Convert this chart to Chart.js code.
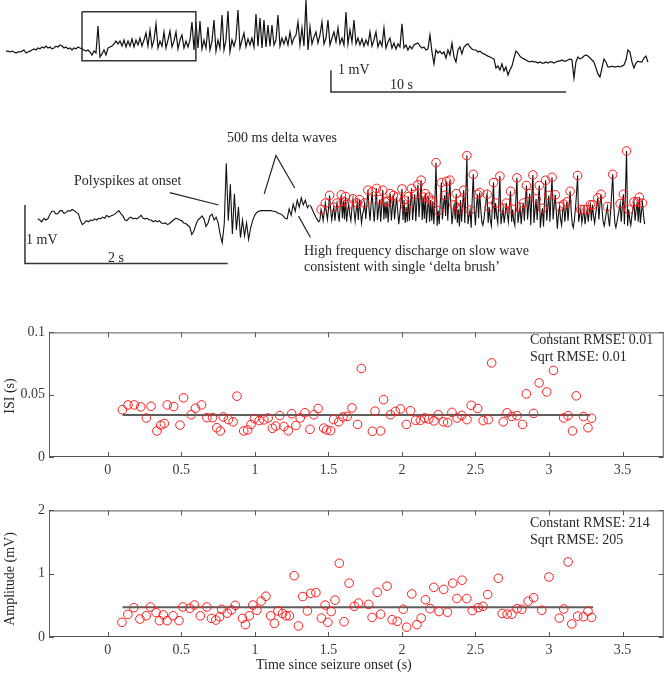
<!DOCTYPE html>
<html>
<head>
<meta charset="utf-8">
<script src="https://cdn.jsdelivr.net/npm/chart.js@4.4.0/dist/chart.umd.min.js"></script>
<style>
html, body { margin: 0; padding: 0; background: #fff; }
#fig { position: relative; width: 669px; height: 678px; overflow: hidden;
       font-family: "Liberation Serif", "Times New Roman", serif; color: #262626; }
#fig canvas { position: absolute; left: 0; }
.t { position: absolute; font-size: 14px; line-height: 14px; white-space: nowrap; }
.ylab { position: absolute; width: 140px; text-align: center; font-size: 14px; line-height: 14px;
        white-space: nowrap; transform: rotate(-90deg); }
</style>
</head>
<body>
<div id="fig">
  <canvas id="top" width="669" height="100" style="top:0px"></canvas>
  <canvas id="mid" width="669" height="150" style="top:130px"></canvas>
  <canvas id="isi" width="669" height="162" style="top:320px"></canvas>
  <canvas id="amp" width="669" height="180" style="top:498px"></canvas>

  <div class="t" style="left:338px;top:63px">1 mV</div>
  <div class="t" style="left:390px;top:78px">10 s</div>

  <div class="t" style="left:227px;top:131px">500 ms delta waves</div>
  <div class="t" style="left:74px;top:174px">Polyspikes at onset</div>
  <div class="t" style="left:26px;top:233px">1 mV</div>
  <div class="t" style="left:108px;top:251px">2 s</div>
  <div class="t" style="left:304px;top:244px">High frequency discharge on slow wave</div>
  <div class="t" style="left:304px;top:260px">consistent with single ‘delta brush’</div>

  <div class="t" style="left:530px;top:333px">Constant RMSE: 0.01</div>
  <div class="t" style="left:530px;top:350px">Sqrt RMSE: 0.01</div>
  <div class="ylab" style="left:-60px;top:389px">ISI (s)</div>

  <div class="t" style="left:530px;top:516px">Constant RMSE: 214</div>
  <div class="t" style="left:530px;top:533px">Sqrt RMSE: 205</div>
  <div class="ylab" style="left:-60px;top:572px">Amplitude (mV)</div>
  <div class="t" style="left:256px;top:658px">Time since seizure onset (s)</div>
</div>

<script>
// ---- long trace (mV), one sample every topDt seconds
const topDt = 0.085;
const topTrace = [
  -0.05,-0.05,-0.09,-0.05,-0.09,-0.14,-0.09,-0.09,-0.05,0,-0.14,-0.09,-0.05,0,0.05,0,0.09,0.05,0.14,0.09,
  0.18,0.09,0.14,0.05,0.09,0.18,0.14,0.23,0.18,0.09,0.14,0.05,0.09,0,0.09,0.05,0.14,0.09,
  0.05,0,-0.05,0,-0.09,-0.23,-0.05,-0.14,1.1,-0.32,-0.18,0,-0.23,0.09,0.14,0.18,0.28,0.41,
  0.28,0.41,0.18,0.46,0.14,0.41,0.18,0.51,0.14,0.46,0.23,0.55,0.18,0.46,0.78,0.18,0.92,0.14,0.46,1.2,
  0.09,0.41,0.18,0.83,0.09,0.46,0.87,0.14,0.41,0.83,0.05,0.46,0.69,0.09,0.41,0.14,0.46,1.29,0,1.29,
  0.09,1.33,0.05,0.46,0.09,1.06,0,0.41,1.38,-0.05,0.46,0.09,1.61,0,0.46,1.79,-0.09,
  0.46,0.18,0.51,1.84,0.09,0.46,0.78,0.14,0.51,0.23,0.55,0.14,1.66,0.18,1.47,0.09,1.38,0.14,1.15,0.18,
  1.15,0.23,0.46,1.61,0.18,0.55,0.28,0.6,0.23,0.83,0.28,0.55,0.69,1.29,0.23,1.01,0.18,2.3,0,1.06,
  0.28,0.6,0.83,0.32,0.69,1.29,0.28,0.55,1.38,0.23,
  0.55,0.83,0.37,1.01,0.28,0.55,0.23,1.75,0.28,0.92,0.37,1.38,0.28,0.55,0.23,0.51,0.18,0.46,0.23,0.83,
  0.18,0.46,0.83,0.14,0.41,0.18,1.01,0.09,0.37,0.55,0.09,0.32,0.05,0.28,0.14,1.2,0.09,0.23,0,0.18,
  0.05,0.23,0.28,0.32,0.18,0.09,0.14,0,0.05,0.69,-0.09,-0.64,0,-0.14,-0.05,
  -0.18,-0.09,-0.37,0,-0.23,0.32,-0.32,-0.55,0,0.14,-0.18,0.14,0.23,0.28,0.14,0.05,0,0,-0.09,-0.05,
  -0.14,-0.18,-0.23,-0.28,-0.32,-0.37,-0.41,-0.83,-0.74,-0.92,-0.64,-0.97,-0.78,-1.15,-0.92,-0.74,-0.37,-0.05,-0.14,-0.28,
  -0.37,-0.41,-0.46,-0.51,-0.55,-0.51,-0.55,-0.55,-0.6,-0.55,-0.6,-0.6,-0.55,-0.6,-0.55,-0.55,-0.6,-0.55,-0.51,-0.51,
  -0.46,-0.51,-0.51,-0.46,-0.41,-0.46,-1.29,-0.55,-0.32,-0.41,-0.37,-0.28,-0.23,-0.28,-0.37,-0.46,-0.55,-0.83,-1.1,-1.24,
  -0.83,-0.41,-0.55,-0.78,-0.78,-0.74,-0.78,-0.78,-0.74,-0.78,-0.74,-0.69,-0.46,0,-0.09,-0.55,-0.83,-0.6,-0.51,-0.55,
  -0.55,-0.37,-0.28,-0.55
];
const topBox = [[3.23, 1.76], [8.07, 1.76], [8.07, -0.49], [3.23, -0.49], [3.23, 1.76]];
const topScaleBar = [[13.81, -0.93], [13.81, -1.93], [23.81, -1.93]];   // 1 mV, 10 s

// ---- expanded trace: before onset (s, mV)
const preStart = -2.69, preDt = 0.02;
const preIctal = [
  -0.03,-0.05,-0.08,-0.02,-0.05,-0.03,0.05,0.10,0.10,0.05,
  0.06,0.11,0.11,0.06,0.08,0.11,0.10,0.13,0.11,0.08,
  0.06,-0.05,-0.13,-0.10,-0.06,-0.08,-0.05,-0.06,-0.03,-0.05,
  -0.02,-0.03,0,-0.02,0.03,0,0.02,0.03,0.05,0.08,
  0.11,0.06,0.02,-0.05,-0.06,-0.02,0,-0.03,-0.02,-0.03,
  0,0.03,-0.02,-0.03,-0.02,-0.05,-0.05,-0.08,-0.06,-0.08,
  -0.06,-0.10,-0.11,-0.10,-0.13,-0.11,-0.08,-0.05,-0.02,-0.03,
  -0.05,-0.06,-0.10,-0.11,-0.14,-0.17,-0.30,-0.24,-0.13,-0.05,
  -0.02,0.02,-0.03,-0.16,-0.10,0.02,0.05,-0.05,0,-0.10,
  -0.30,-0.44,-0.11,0.92,-0.06,0.56,-0.29,0.40,-0.22,0.17,
  -0.35,-0.05,-0.32,-0.10,-0.38,-0.19,-0.06,0.03,0.08,0.10,
  0.11,0.11,0.11,0.11,0.11,0.11,0.10,0.10,0.08,0.06,
  0.05,0.02,-0.02,-0.03,0.14,0.03,0.22,0.10,0.29,0.17,
  0.33,0.21,0.29,0.16,0.21
];
// ---- expanded trace: discharge after onset (s, mV)
const ictalDt = 0.0105;
const ictal = [
  0.2,0.16,0.12,0.08,0.04,0,-0.03,-0.06,-0.08,-0.04,
  0.13,0.05,-0.06,0.10, 0.24,0.08,-0.04,0.15, 0.37,0.12,-0.05,0.08, 0.17,-0.06,0.12, 0.24,0.06,-0.08,0.20,
  0.38,-0.02, 0.27,-0.04, 0.35,-0.08,0.10, 0.22,0.04,-0.06,0.16, 0.31,0.10,-0.07,0.12,
  0.24,-0.05, 0.30,0.10,-0.10,0.05,0.12, 0.24,-0.03,0.20, 0.46,0.15,-0.06,0.22, 0.43,0.12,-0.08,0.25,
  0.49,-0.05,0.14, 0.30,-0.08,0.20, 0.46,-0.04, 0.26,-0.02, 0.27,-0.09,0.18,
  0.40,-0.06,0.15, 0.37,-0.04,0.16, 0.34,0.10,-0.12,0.06,0.25, 0.48,-0.05, 0.29,-0.10,
  0.17,-0.08, 0.35,-0.06,0.22, 0.49,-0.05,0.18, 0.39,-0.07,0.25, 0.55,0,0.30,
  0.63,-0.05, 0.34,-0.03, 0.40,-0.10,0.14, 0.34,-0.08, 0.29,-0.06,
  0.27,-0.12,0.30, 0.93,-0.15, 0.11,-0.12,0.25, 0.59,-0.04,0.20, 0.37,0.02,
  0.61,-0.06,0.30, 0.63,0.20,-0.12,0.08, 0.21,-0.04, 0.40,-0.10, 0.13,-0.16,
  0.29,-0.08,0.20, 0.46,-0.10,0.40, 1.05,-0.12,0.02, 0.12,-0.18,0.30, 0.73,0.15,-0.14,0.20,
  0.39,-0.02, 0.42,0.15,-0.08,-0.14,-0.04,0.12,0.28, 0.39,-0.10, 0.17,-0.05,-0.15,0.20, 0.59,-0.04,
  0.24,0.02,-0.10,0.25, 0.70,-0.12,0.02, 0.15,-0.10,0.05, 0.24,0.05,-0.08,0.20, 0.44,-0.08,
  0.13,-0.06,-0.14,0.30, 0.67,-0.10,0.05, 0.17,-0.12,0.10, 0.24,-0.06,0.30, 0.54,-0.04,0.20,
  0.40,-0.14,0.35, 0.72,-0.10,0.12, 0.31,-0.05,0.28, 0.54,-0.18,0.02, 0.15,-0.16,0.30,
  0.63,-0.06,0.18, 0.37,-0.08,0.35, 0.68,-0.04,0.20, 0.38,0.10,-0.20,0.05, 0.18,-0.04,-0.14,0.10,
  0.22,-0.08,0.12, 0.26,-0.06,0.20, 0.44,0.10,-0.12,-0.18,-0.05,0.15,0.40, 0.71,-0.08,0.04,
  0.13,-0.10,0.02, 0.13,-0.12,0.04, 0.13,-0.08,0.10, 0.21,-0.06, 0.21,0.02,-0.10,0.05,0.20,
  0.33,-0.04,0.22, 0.39,0.12,-0.08,-0.15,-0.05,0.08, 0.18,-0.02,-0.16,0.10,0.40,
  0.73,0.20,-0.10,-0.18,-0.08,0.02,0.12, 0.23,-0.08,0.18, 0.39,-0.12,0.45, 1.13,-0.15,
  0.13,-0.04,-0.14,0.02,0.14, 0.26,-0.06,0.12, 0.26,-0.08, 0.34,-0.10,0.10, 0.24,0.02,-0.12
];
const midScaleBar = [[-2.816, 0.206], [-2.816, -0.794], [-0.816, -0.794]];   // 1 mV, 2 s
const pointerPolyspikes = [[-1.388, 0.417], [-0.906, 0.206]];
const pointerDelta = [[-0.456, 0.397], [-0.340, 1.052], [-0.155, 0.497]];
const pointerBrush = [[-0.117, 0.016], [0, -0.349]];

// ---- inter-spike intervals
const isiTime = [0.099,0.137,0.180,0.224,0.262,0.294,0.334,0.36,0.384,0.404,0.448,0.491,0.515,0.567,0.596,0.637,
  0.674,0.712,0.741,0.765,0.785,0.820,0.852,0.878,0.924,0.951,0.974,0.997,1.029,1.061,1.09,1.119,1.142,1.169,
  1.198,1.227,1.25,1.279,1.308,1.34,1.375,1.401,1.43,1.468,1.488,1.515,1.535,1.57,1.599,1.628,1.66,1.698,1.724,
  1.799,1.817,1.855,1.875,1.922,1.956,1.99,2.03,2.058,2.093,2.125,2.154,2.183,2.218,2.247,2.282,2.311,2.340,
  2.375,2.407,2.442,2.471,2.515,2.552,2.587,2.61,2.689,2.715,2.747,2.782,2.82,2.846,2.895,2.933,2.985,3.03,
  3.1,3.13,3.16,3.185,3.235,3.265,3.29];
const isiValue = [0.0379,0.0418,0.0418,0.0402,0.0313,0.0407,0.0209,0.0256,0.0269,0.0418,0.0405,0.0256,0.0475,
  0.0339,0.0392,0.0418,0.0316,0.0316,0.0235,0.0209,0.0321,0.030,0.0282,0.0488,0.0209,0.0217,0.0261,0.0308,
  0.0292,0.0298,0.0313,0.023,0.0248,0.0332,0.0245,0.0211,0.0347,0.0253,0.0313,0.0355,0.0222,0.0339,0.0389,
  0.0232,0.0217,0.0211,0.030,0.0282,0.0321,0.0326,0.0394,0.0261,0.071,0.0206,0.0368,0.0209,0.046,0.0339,
  0.0366,0.0386,0.0261,0.0371,0.0295,0.0295,0.0313,0.0305,0.029,0.0339,0.0282,0.0277,0.0358,0.0313,0.0334,
  0.030,0.0415,0.0389,0.0292,0.030,0.0755,0.0282,0.0355,0.0326,0.0332,0.0261,0.0507,0.035,0.0595,0.0522,
  0.0695,0.0313,0.0332,0.0209,0.0491,0.0324,0.0235,0.0311];
const isiFitT = [0.1, 3.28], isiFitV = [0.0337, 0.0337];

// ---- spike amplitudes
const ampTime = [0.096,0.136,0.177,0.218,0.261,0.29,0.328,0.351,0.377,0.403,0.444,0.484,0.51,0.557,0.589,0.629,
  0.673,0.705,0.734,0.76,0.774,0.812,0.841,0.867,0.916,0.936,0.962,0.986,1.014,1.043,1.075,1.107,1.133,1.157,
  1.188,1.212,1.235,1.267,1.296,1.325,1.357,1.38,1.415,1.452,1.478,1.496,1.519,1.545,1.574,1.606,1.641,1.676,
  1.705,1.774,1.797,1.832,1.855,1.899,1.933,1.968,2.009,2.032,2.067,2.102,2.131,2.16,2.191,2.217,2.252,2.284,
  2.31,2.345,2.374,2.409,2.441,2.478,2.519,2.551,2.583,2.655,2.681,2.716,2.748,2.783,2.815,2.858,2.896,2.951,
  3.0,3.07,3.1,3.13,3.155,3.195,3.235,3.265,3.29];
const ampValue = [0.232,0.356,0.464,0.284,0.335,0.474,0.387,0.258,0.35,0.258,0.335,0.258,0.474,0.454,0.505,0.335,
  0.474,0.294,0.268,0.32,0.438,0.376,0.428,0.5,0.294,0.196,0.335,0.505,0.423,0.567,0.644,0.335,0.216,0.412,
  0.371,0.335,0.335,0.969,0.175,0.639,0.412,0.69,0.701,0.299,0.505,0.232,0.402,0.582,1.165,0.242,0.851,0.485,
  0.536,0.515,0.309,0.706,0.361,0.804,0.273,0.247,0.438,0.155,0.68,0.196,0.299,0.588,0.448,0.784,0.402,0.753,
  0.392,0.851,0.608,0.897,0.608,0.418,0.464,0.485,0.67,0.928,0.371,0.361,0.361,0.448,0.438,0.567,0.619,0.423,
  0.948,0.299,0.443,1.186,0.206,0.33,0.32,0.407,0.309];
const ampFitT = [0.1, 3.3], ampFitV = [0.47, 0.47];

const xTicks = [0, 0.5, 1, 1.5, 2, 2.5, 3, 3.5];
const isiTicks = [0, 0.05, 0.1];
const ampTicks = [0, 1, 2];

Chart.defaults.font.family = '"Liberation Serif", "Times New Roman", serif';
Chart.defaults.font.size = 14;
Chart.defaults.color = '#3c3c3c';
Chart.defaults.animation = false;
Chart.defaults.plugins.legend.display = false;
Chart.defaults.plugins.tooltip.enabled = false;

// lines given in data units (scale bars, pointers, zoom box)
const overlay = {
  id: 'overlay',
  afterDatasetsDraw(chart, args, opts) {
    const { ctx, scales: { x, y } } = chart;
    (opts.paths || []).forEach(p => {
      ctx.save();
      ctx.strokeStyle = p.color;
      ctx.lineWidth = p.width;
      ctx.beginPath();
      p.pts.forEach(([t, v], i) => {
        const px = x.getPixelForValue(t), py = y.getPixelForValue(v);
        if (i) ctx.lineTo(px, py); else ctx.moveTo(px, py);
      });
      ctx.stroke();
      ctx.restore();
    });
  }
};

// matlab style box with inward ticks on all sides
const boxAxes = {
  id: 'boxAxes',
  afterDraw(chart) {
    const { ctx, chartArea: a, scales: { x, y } } = chart;
    ctx.save();
    ctx.strokeStyle = '#555';
    ctx.lineWidth = 1;
    ctx.strokeRect(a.left + 0.5, a.top + 0.5, a.right - a.left - 1, a.bottom - a.top - 1);
    ctx.beginPath();
    x.ticks.forEach(t => {
      const px = Math.round(x.getPixelForValue(t.value)) + 0.5;
      ctx.moveTo(px, a.bottom); ctx.lineTo(px, a.bottom - 5);
      ctx.moveTo(px, a.top); ctx.lineTo(px, a.top + 5);
    });
    y.ticks.forEach(t => {
      const py = Math.round(y.getPixelForValue(t.value)) + 0.5;
      ctx.moveTo(a.left, py); ctx.lineTo(a.left + 5, py);
      ctx.moveTo(a.right, py); ctx.lineTo(a.right - 5, py);
    });
    ctx.stroke();
    ctx.restore();
  }
};

const hidden = { display: false };
function traceSet(points, width) {
  return { data: points, showLine: true, borderColor: '#111', borderWidth: width, pointRadius: 0, order: 2 };
}

// top: whole recording
new Chart(document.getElementById('top'), {
  type: 'scatter',
  data: { datasets: [traceSet(topTrace.map((v, i) => ({ x: i * topDt, y: v })), 1.2)] },
  options: {
    responsive: false, devicePixelRatio: 1,
    layout: { padding: { left: 6, right: 0, top: 0, bottom: 0 } },
    scales: { x: { ...hidden, min: 0, max: 28.18 }, y: { ...hidden, min: -2.3, max: 2.3 } },
    plugins: { overlay: { paths: [
      { pts: topBox, width: 1.5, color: '#333' },
      { pts: topScaleBar, width: 1.5, color: '#333' }
    ] } }
  },
  plugins: [overlay]
});

// middle: expanded onset with detected peaks
const ictalPoints = ictal.map((v, i) => ({ x: i * ictalDt, y: v }));
const peaks = ictalPoints.filter((p, i) => i > 0 && i < ictal.length - 1 && p.y > ictal[i - 1] && p.y > ictal[i + 1]);
new Chart(document.getElementById('mid'), {
  type: 'scatter',
  data: { datasets: [
    { data: peaks, pointRadius: 4.3, pointBorderColor: '#ff1a1a', pointBackgroundColor: 'rgba(0,0,0,0)',
      pointBorderWidth: 1, order: 0 },
    traceSet(preIctal.map((v, i) => ({ x: preStart + i * preDt, y: v })), 1.1),
    traceSet(ictalPoints, 1.1)
  ] },
  options: {
    responsive: false, devicePixelRatio: 1,
    layout: { padding: 0 },
    scales: { x: { ...hidden, min: -3.01, max: 3.485 }, y: { ...hidden, min: -0.984, max: 1.397 } },
    plugins: { overlay: { paths: [
      { pts: midScaleBar, width: 1.5, color: '#333' },
      { pts: pointerPolyspikes, width: 1.2, color: '#222' },
      { pts: pointerDelta, width: 1.2, color: '#222' },
      { pts: pointerBrush, width: 1.2, color: '#222' }
    ] } }
  },
  plugins: [overlay]
});

function scatterPlot(id, times, values, fitT, fitV, yMax, yTicks, xAxisH) {
  return new Chart(document.getElementById(id), {
    type: 'scatter',
    data: { datasets: [
      { data: times.map((t, i) => ({ x: t, y: values[i] })), pointRadius: 4.3, pointBorderColor: '#ff1a1a',
        pointBackgroundColor: 'rgba(0,0,0,0)', pointBorderWidth: 1, order: 0 },
      { data: fitT.map((t, i) => ({ x: t, y: fitV[i] })), showLine: true, borderColor: '#5e5e5e',
        borderWidth: 2.2, pointRadius: 0, order: 1 }
    ] },
    options: {
      responsive: false, devicePixelRatio: 1,
      layout: { padding: { top: 10, right: 1, left: 0, bottom: 0 } },
      scales: {
        x: {
          min: -0.4, max: 3.78,
          grid: { display: false, drawTicks: false }, border: { display: false },
          afterBuildTicks: s => { s.ticks = xTicks.map(v => ({ value: v })); },
          afterFit: s => { s.height = xAxisH; },
          ticks: { padding: 5, maxRotation: 0, autoSkip: false, callback: v => String(v) }
        },
        y: {
          min: 0, max: yMax,
          grid: { display: false, drawTicks: false }, border: { display: false },
          afterBuildTicks: s => { s.ticks = yTicks.map(v => ({ value: v })); },
          afterFit: s => { s.width = 49; },
          ticks: { padding: 4, autoSkip: false, callback: v => String(v) }
        }
      }
    },
    plugins: [boxAxes]
  });
}

scatterPlot('isi', isiTime, isiValue, isiFitT, isiFitV, 0.1, isiTicks, 25);
scatterPlot('amp', ampTime, ampValue, ampFitT, ampFitV, 2, ampTicks, 41);
</script>
</body>
</html>
